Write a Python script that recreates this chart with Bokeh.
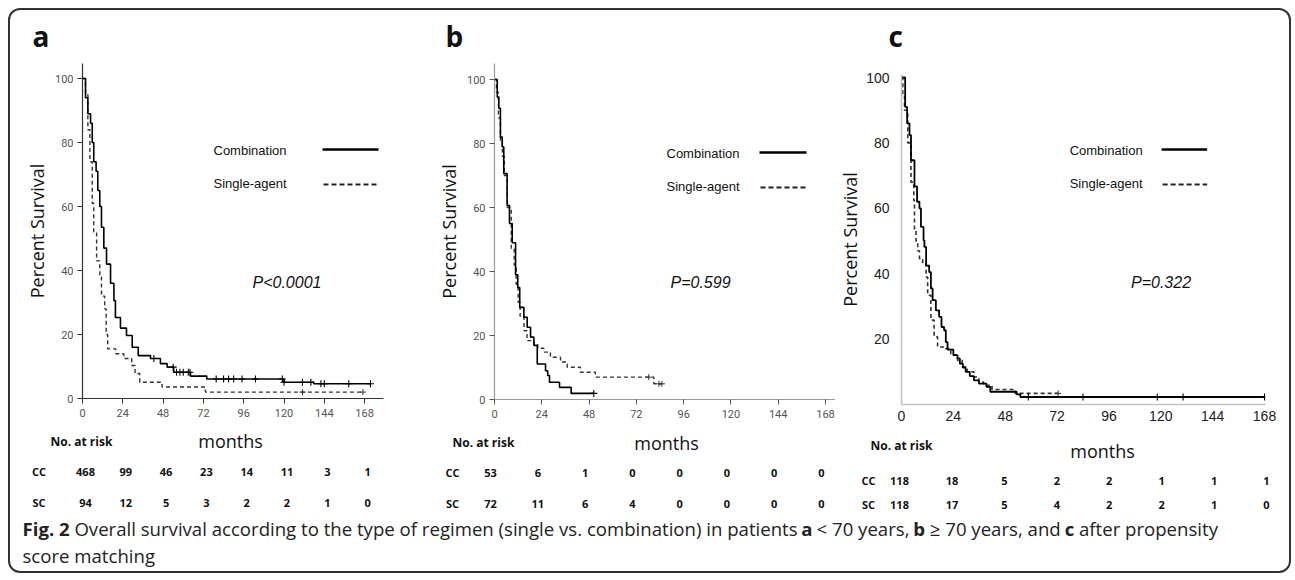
import numpy as np
from bokeh.plotting import figure
from bokeh.models import Label, Range1d, FixedTicker
from bokeh.layouts import column, row
from bokeh.embed import file_html
from bokeh.resources import INLINE

# ---------------- data ----------------
month_ticks = [0, 24, 48, 72, 96, 120, 144, 168]
surv_ticks_ab = [0, 20, 40, 60, 80, 100]
surv_ticks_c = [20, 40, 60, 80, 100]
panel_letters = ["a", "b", "c"]
legend_labels = ["Combination", "Single-agent"]
p_values = ["P<0.0001", "P=0.599", "P=0.322"]
row_names = ["CC", "SC"]

# panel a (< 70 years)
a_cc_t = [0, 1.8, 3.2, 4.8, 5.8, 6.7, 8.1, 9.1, 10.3, 11.3, 12.7, 14.3, 16.7, 18.7, 19.6, 22.6,
          26.2, 29.6, 33.2, 40.5, 46.4, 50.4, 54.3, 64.3, 74, 120, 137.7, 171.5]
a_cc_s = [100, 94, 89, 86, 80, 74, 71, 65, 60, 53.5, 47, 42, 36, 30.6, 25.3, 22,
          19.7, 16, 13.4, 12.5, 10.9, 9.8, 8.2, 7, 6.1, 5.1, 4.6, 4.6]
a_cc_cens = [42.5, 54, 56, 58, 60, 63, 64, 79.6, 84, 87, 90, 95, 103, 119, 120, 131, 136, 142,
             144, 158.6, 171.5]
a_sc_t = [0, 1.8, 3.2, 4.4, 5.8, 6.7, 8.4, 10.3, 11.3, 13.2, 14.1, 15, 19.8, 24.6, 29.3, 31.3,
          34.1, 47.4, 73.2, 167]
a_sc_s = [100, 95, 84, 74, 61, 52, 43, 38, 32, 28, 20, 15.5, 14, 12.5, 10.3, 7.8,
          5.1, 3.6, 2.0, 2.0]
a_sc_cens = [131, 167]

# panel b (>= 70 years)
b_cc_t = [0, 1.4, 2.2, 3, 3.9, 4.7, 6.4, 7.6, 9, 10.7, 11.8, 12.8, 14.9, 16.6, 18.3, 20, 21.7,
          25.9, 27, 27.9, 33, 38.9, 50.4]
b_cc_s = [100, 94.5, 91, 82, 79, 70.6, 60.6, 55, 49, 39, 35, 28.8, 25.7, 22.6, 19.5, 16.9, 11.1,
          9, 7.5, 5.4, 3.8, 1.9, 1.9]
b_cc_cens = [50.4]
b_sc_t = [0, 1, 2, 3, 4, 5, 6.5, 8.5, 10, 11, 12, 13, 15, 16.5, 20, 22, 25, 28.4, 33.5, 36.9,
          43.6, 51.2, 80.9, 85]
b_sc_s = [100, 96, 88, 81, 76, 70, 60, 47, 42, 36, 30.4, 26, 21.5, 18.4, 17.3, 16, 14.8, 13.2,
          11.7, 10.1, 8.5, 7, 4.9, 4.9]
b_sc_cens = [78.3, 83.5, 85]

# panel c (propensity matched)
c_cc_t = [0, 1.7, 2.6, 3.7, 4.4, 6, 7.2, 8.3, 9, 10.2, 10.6, 11.4, 12.8, 13.6, 14.4, 15.9, 17.4,
          18.5, 19.7, 20.5, 21.3, 24, 25.9, 27, 28.4, 29.7, 31.6, 33.5, 35.8, 39.3, 41.1, 53.3,
          55, 168]
c_cc_s = [100, 91, 86, 82.4, 74.7, 66.7, 62, 60, 54.3, 50.2, 48.2, 42.5, 40.5, 35.5, 31.9, 28.8,
          26.8, 23.7, 22.7, 19.1, 16.8, 15.1, 14.1, 12.5, 11.3, 10, 8.7, 7.4, 6.4, 5.4, 3.9, 3.1,
          2.3, 2.3]
c_cc_cens = [58.7, 84, 118.4, 130.3, 168]
c_sc_t = [0, 0.6, 1.4, 2.9, 4.4, 5.7, 6.0, 6.7, 7.5, 8.3, 9.8, 11.4, 12.1, 13.6, 15.1, 16.7,
          20.5, 22.8, 25.9, 28.1, 30.4, 33.5, 35.8, 38, 41.9, 52.6, 72.5]
c_sc_s = [100, 95, 90, 80, 68, 62.4, 53.3, 50, 47, 44.6, 43, 39, 33.4, 25.8, 20.7, 17.6,
          17.1, 15.1, 13.5, 11.5, 10, 8.4, 6.9, 5.9, 4.6, 3.4, 3.4]
c_sc_cens = [72.5]

risk_a_cc = [468, 99, 46, 23, 14, 11, 3, 1]
risk_a_sc = [94, 12, 5, 3, 2, 2, 1, 0]
risk_b_cc = [53, 6, 1, 0, 0, 0, 0, 0]
risk_b_sc = [72, 11, 6, 4, 0, 0, 0, 0]
risk_c_cc = [118, 18, 5, 2, 2, 1, 1, 1]
risk_c_sc = [118, 17, 5, 4, 2, 2, 1, 0]

# caption pieces: (text, weight, approximate width in em)
caption_segments = [
    ("Fig. 2", "bold", 2.53),
    ("Overall survival according to the type of regimen (single vs. combination) in patients", "normal", 38.82),
    ("a", "bold", 0.56),
    ("< 70 years,", "normal", 4.94),
    ("b", "bold", 0.63),
    ("\u2265 70 years, and", "normal", 7.0),
    ("c", "bold", 0.5),
    ("after propensity", "normal", 6.65),
]
caption_line2 = "score matching"
SPACE_EM = 0.26


def step_at(t, s, x):
    i = np.searchsorted(np.asarray(t), np.asarray(x), side="right") - 1
    return list(np.asarray(s)[i])


# ---------------- geometry (page pixels, content origin at 10,10) ----------------
TOP, PANEL_TOP, PANEL_BOT, STRIP_BOT, CAP_BOT = 10, 63, 427, 513, 571
LEFT, RIGHT = 10, 1289
geo_a = dict(ox=10, w=420, FL=82, FR=383, FT=63, FB=398, pxm=40.3 / 24, pxp=3.2)
geo_b = dict(ox=430, w=405, FL=494, FR=835, FT=63, FB=399, pxm=331 / 168, pxp=3.2)
geo_c = dict(ox=835, w=454, FL=897, FR=1265, FT=74, FB=404, pxm=367 / 168, pxp=3.27)


def clean(p):
    p.outline_line_color = None
    p.grid.visible = False
    p.border_fill_color = None
    p.background_fill_color = None


def make_panel(g, style, curves, pval, texts):
    x_end = (g["FR"] - g["FL"]) / g["pxm"]
    y_end = (g["FB"] - g["FT"]) / g["pxp"]
    p = figure(width=g["w"], height=PANEL_BOT - PANEL_TOP,
               x_range=Range1d(0, x_end), y_range=Range1d(0, y_end),
               output_backend="svg", toolbar_location=None, title=None,
               min_border_left=g["FL"] - g["ox"], min_border_right=g["ox"] + g["w"] - g["FR"],
               min_border_top=g["FT"] - PANEL_TOP, min_border_bottom=PANEL_BOT - g["FB"])
    clean(p)
    X = lambda px: (px - g["FL"]) / g["pxm"]
    Y = lambda py: (g["FB"] - py) / g["pxp"]

    p.xaxis.ticker = FixedTicker(ticks=month_ticks)
    p.yaxis.ticker = FixedTicker(ticks=style["yticks"])
    for ax in (p.xaxis[0], p.yaxis[0]):
        ax.axis_line_color = style["axis_color"]
        ax.axis_line_width = style["axis_width"]
        ax.major_tick_line_color = style["tick_color"]
        ax.major_tick_out = style["tick_out"]
        ax.major_tick_in = 0
        ax.minor_tick_line_color = None
        ax.major_label_text_font = style["lab_font"]
        ax.major_label_text_font_size = style["lab_size"]
        ax.major_label_text_color = style["lab_color"]
    p.xaxis.major_label_standoff = style["xstand"]
    p.yaxis.major_label_standoff = style["ystand"]
    p.yaxis.axis_label = "Percent Survival"
    p.yaxis.axis_label_text_font = "Open Sans"
    p.yaxis.axis_label_text_font_size = "18px"
    p.yaxis.axis_label_text_font_style = "normal"
    p.yaxis.axis_label_text_color = "#111111"
    p.yaxis.axis_label_standoff = style["label_stand"]

    (cc_t, cc_s, cc_c), (sc_t, sc_s, sc_c) = curves
    p.step(sc_t, sc_s, mode="after", line_color="#333333", line_width=style["lw"] - 0.2,
           line_dash="4 3")
    p.step(cc_t, cc_s, mode="after", line_color="black", line_width=style["lw"])
    p.scatter(cc_c, step_at(cc_t, cc_s, cc_c), marker="cross", size=7, line_color="black",
              line_width=1.1)
    p.scatter(sc_c, step_at(sc_t, sc_s, sc_c), marker="cross", size=6, line_color="#333333",
              line_width=1.0)

    def lab(px, py, text, font="Liberation Sans", size="13px", style_="normal"):
        p.add_layout(Label(x=X(px), y=Y(py), text=text, text_font=font, text_font_size=size,
                           text_font_style=style_, text_align="left", text_baseline="middle",
                           text_color="#111111"))

    lg = texts["legend"]
    lab(lg[0], lg[1], legend_labels[0])
    lab(lg[0], lg[2], legend_labels[1])
    p.segment(x0=[X(lg[3])], y0=[Y(lg[1] - 1)], x1=[X(lg[4])], y1=[Y(lg[1] - 1)],
              line_color="black", line_width=2.6)
    p.segment(x0=[X(lg[3] + 1)], y0=[Y(lg[2] + 1)], x1=[X(lg[4])], y1=[Y(lg[2] + 1)],
              line_color="#222222", line_width=2.0, line_dash="5 3")
    lab(texts["p"], 282, pval, size="16px", style_="italic")
    return p


style_ab = dict(yticks=surv_ticks_ab, axis_color="#333333", axis_width=1.2, tick_color="#333333",
                tick_out=5, lab_font="Roboto", lab_size="11px", lab_color="#555555",
                xstand=5, ystand=4, lw=1.6, label_stand=3)
style_b = dict(style_ab, axis_color="#9a9a9a", tick_color="#555555")
style_c = dict(yticks=surv_ticks_c, axis_color="#c4c4c4", axis_width=1.6, tick_color=None,
               tick_out=0, lab_font="Liberation Sans", lab_size="14px", lab_color="#222222",
               xstand=6, ystand=12, lw=1.8, label_stand=1)

pa = make_panel(geo_a, style_ab, ((a_cc_t, a_cc_s, a_cc_cens), (a_sc_t, a_sc_s, a_sc_cens)),
                p_values[0], dict(legend=(213, 150, 183, 322, 378), p=252))
pb = make_panel(geo_b, style_b, ((b_cc_t, b_cc_s, b_cc_cens), (b_sc_t, b_sc_s, b_sc_cens)),
                p_values[1], dict(legend=(666, 153, 186, 759, 806), p=670))
pc = make_panel(geo_c, style_c, ((c_cc_t, c_cc_s, c_cc_cens), (c_sc_t, c_sc_s, c_sc_cens)),
                p_values[2], dict(legend=(1067, 150, 183, 1160, 1206), p=1129))


# ---------------- text strips ----------------
def make_strip(top, bottom):
    h = bottom - top
    s = figure(width=RIGHT - LEFT, height=h, x_range=Range1d(0, RIGHT - LEFT),
               y_range=Range1d(0, h), output_backend="svg", toolbar_location=None, title=None,
               min_border=0)
    s.axis.visible = False
    clean(s)

    def lab(px, py, text, font="Open Sans", size="12px", style_="normal", align="left",
            baseline="middle", color="#111111"):
        s.add_layout(Label(x=px - LEFT, y=bottom - py, text=text, text_font=font,
                           text_font_size=size, text_font_style=style_, text_align=align,
                           text_baseline=baseline, text_color=color))
    return s, lab


top_strip, top_lab = make_strip(TOP, PANEL_TOP)
for letter, px in zip(panel_letters, (32, 445, 888)):
    top_lab(px, 35, letter, size="28px", style_="bold")

risk_strip, risk_lab = make_strip(PANEL_BOT, STRIP_BOT)
risk_layout = [
    (geo_a, (230, 440), (50, 441), 38.5, (471, 502), 3, (risk_a_cc, risk_a_sc)),
    (geo_b, (666, 442), (452, 442), 452, (472, 503), -4, (risk_b_cc, risk_b_sc)),
    (geo_c, (1102, 450), (870, 445), 868, (480, 504), 2, (risk_c_cc, risk_c_sc)),
]
for g, (mx, my), (nx, ny), rx, (r1, r2), dx, (cc, sc) in risk_layout:
    risk_lab(mx, my, "months", size="18px", align="center")
    risk_lab(nx, ny, "No. at risk", size="12px", style_="bold")
    for name, ry, vals in ((row_names[0], r1, cc), (row_names[1], r2, sc)):
        risk_lab(rx, ry, name, size="11px", style_="bold", align="center")
        for m, v in zip(month_ticks, vals):
            risk_lab(g["FL"] + m * g["pxm"] + dx, ry, str(v), size="11px", style_="bold",
                     align="center")

# ---------------- caption ----------------
cap, cap_lab = make_strip(STRIP_BOT, CAP_BOT)
CAP_SIZE = 18.6
xpos = 22
for text, weight, em in caption_segments:
    cap_lab(xpos, 528, text, size=f"{CAP_SIZE}px", style_=weight, color="#222222")
    xpos += (em + SPACE_EM) * CAP_SIZE
cap_lab(22, 555, caption_line2, size=f"{CAP_SIZE}px", color="#222222")

# each panel sits in its own column so that the row does not align their frames
layout = column(top_strip, row(column(pa), column(pb), column(pc)), risk_strip, cap,
                styles={"border": "2px solid #333333", "border-radius": "12px",
                        "background-color": "white", "margin-left": "8px",
                        "margin-top": "8px"})

open("out.html", "w").write(file_html(layout, INLINE))
